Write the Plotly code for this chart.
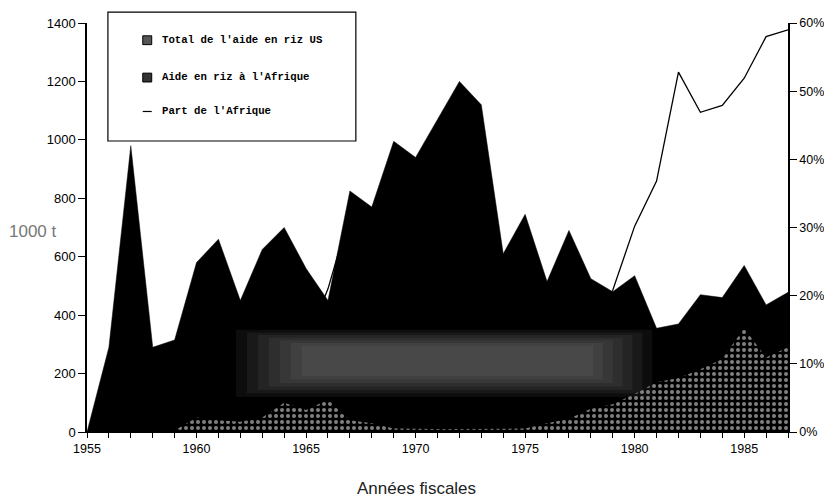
import plotly.graph_objects as go

# Données (milliers de tonnes, part en %)
annees = list(range(1955, 1988))
total_riz_us = [0, 290, 980, 290, 315, 580, 660, 450, 625, 700,
                560, 450, 825, 770, 995, 940, 1070, 1200, 1120, 610,
                745, 515, 690, 525, 480, 535, 355, 370, 470, 460,
                570, 435, 478]
aide_afrique = [0, 0, 0, 0, 5, 50, 40, 35, 50, 100,
                75, 110, 40, 30, 12, 10, 10, 10, 10, 10,
                12, 30, 45, 80, 95, 130, 170, 185, 215, 250,
                355, 255, 290]
part_afrique = [0, 0, 0, 0, 1, 9, 6, 8, 8, 14,
                13, 21, 32, 4, 1, 1, 1, 1, 1, 2,
                1, 6, 6, 15, 20.8, 30.2, 36.8, 52.8, 46.9, 47.9,
                51.9, 58.0, 59.0]

legende = ["Total de l'aide en riz US", "Aide en riz à l'Afrique", "Part de l'Afrique"]

# Géométrie (pixels écran) ; la page ajoute une marge de 8 px
OFF = 8
W, H = 832 - OFF, 502 - OFF
L, R, T, B = 87, 791, 16, 432


def px_x(x):
    return (x - L) / (R - L)


def px_y(y):
    return (B - y) / (B - T)


TICK_FONT = dict(family="Liberation Sans", size=12.5, color="black")
LEG_FONT = dict(family="Liberation Mono", size=10.7, color="black")

fig = go.Figure()

fig.add_trace(go.Scatter(
    x=annees, y=total_riz_us, name=legende[0],
    mode="lines", fill="tozeroy",
    line=dict(color="black", width=0.5), fillcolor="black",
))

fig.add_trace(go.Scatter(
    x=annees, y=aide_afrique, name=legende[1],
    mode="lines", fill="tozeroy",
    line=dict(color="black", width=0),
    fillcolor="black",
    fillpattern=dict(shape=".", fgcolor="white", bgcolor="black",
                     size=6, solidity=0.35),
))

fig.add_trace(go.Scatter(
    x=annees, y=part_afrique, name=legende[2], yaxis="y2",
    mode="lines", line=dict(color="black", width=1.3),
))

shapes = []
# bande grise (trame de la photocopie), couches fines pour un dégradé doux
for i in range(7):
    shapes.append(dict(type="rect", xref="x", yref="y",
                       x0=1961.8 + 0.5 * i, x1=1980.8 - 0.45 * i,
                       y0=120 + 12 * i, y1=350 - 9 * i,
                       line=dict(width=0),
                       fillcolor="rgba(180,180,180,0.07)", layer="above"))

# cadre de la légende
shapes.append(dict(type="rect", xref="paper", yref="paper",
                   x0=px_x(108), x1=px_x(357), y0=px_y(136), y1=px_y(5),
                   line=dict(color="black", width=1.2), fillcolor="white",
                   layer="above"))
# icônes
shapes.append(dict(type="rect", xref="paper", yref="paper",
                   x0=px_x(143), x1=px_x(152), y0=px_y(38), y1=px_y(29),
                   line=dict(color="black", width=1), fillcolor="#555",
                   layer="above"))
shapes.append(dict(type="rect", xref="paper", yref="paper",
                   x0=px_x(143), x1=px_x(152), y0=px_y(76), y1=px_y(67),
                   line=dict(color="black", width=1), fillcolor="#333",
                   layer="above"))
shapes.append(dict(type="line", xref="paper", yref="paper",
                   x0=px_x(143), x1=px_x(152), y0=px_y(106), y1=px_y(106),
                   line=dict(color="black", width=1.2), layer="above"))

annotations = []
for texte, ypx in zip(legende, [33, 71, 106]):
    annotations.append(dict(text="<b>" + texte + "</b>", xref="paper", yref="paper",
                            x=px_x(160), y=px_y(ypx), xanchor="left",
                            yanchor="middle", showarrow=False, font=LEG_FONT))

annotations.append(dict(text="Années fiscales", xref="paper", yref="paper",
                        x=px_x(418), y=px_y(489), xanchor="center",
                        yanchor="middle", showarrow=False,
                        font=dict(family="Liberation Sans", size=17,
                                  color="#222")))
annotations.append(dict(text="1000 t", xref="paper", yref="paper",
                        x=px_x(33), y=px_y(228), xanchor="center",
                        yanchor="middle", showarrow=False,
                        font=dict(family="Liberation Sans", size=17,
                                  color="#777")))

fig.update_layout(
    width=W, height=H,
    margin=dict(l=L - OFF, r=W - (R - OFF), t=T - OFF, b=H - (B - OFF)),
    paper_bgcolor="white", plot_bgcolor="white",
    showlegend=False,
    xaxis=dict(
        range=[1955, 1987], tick0=1955, dtick=5,
        showgrid=False, zeroline=False,
        showline=True, linecolor="black", linewidth=1,
        ticks="outside", ticklen=5, tickcolor="black",
        tickfont=TICK_FONT,
        minor=dict(dtick=1, ticks="outside", ticklen=5, tickcolor="black"),
    ),
    yaxis=dict(
        range=[0, 1400], dtick=200,
        showgrid=False, zeroline=False,
        showline=True, linecolor="black", linewidth=1.5,
        ticks="outside", ticklen=7, tickcolor="black",
        tickfont=dict(family="Liberation Sans", size=13, color="black"),
    ),
    yaxis2=dict(
        range=[0, 60], dtick=10, ticksuffix="%",
        overlaying="y", side="right", anchor="x",
        showgrid=False, zeroline=False,
        showline=True, linecolor="black", linewidth=1.5,
        ticks="outside", ticklen=7, tickcolor="black",
        tickfont=TICK_FONT,
    ),
    shapes=shapes,
    annotations=annotations,
)

fig.write_html("out.html")
